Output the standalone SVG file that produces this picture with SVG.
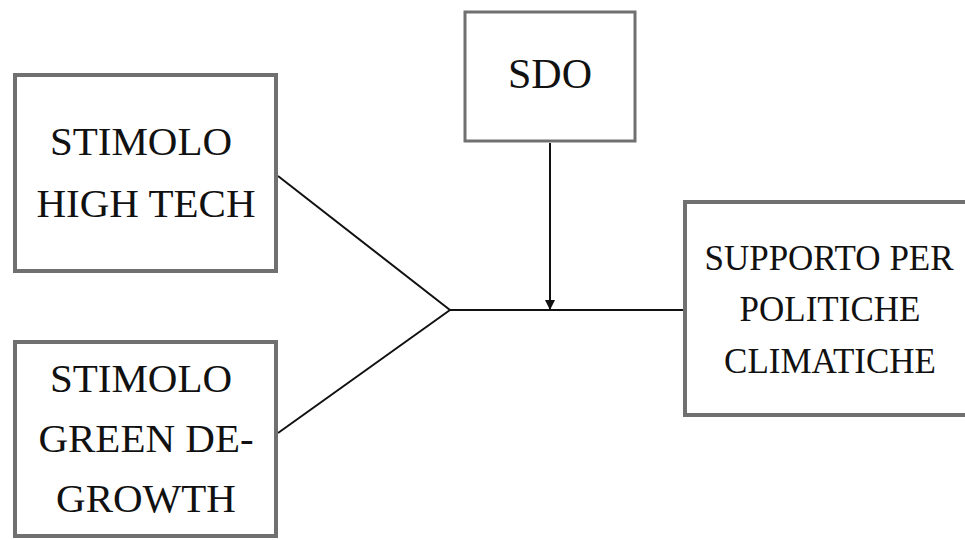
<svg xmlns="http://www.w3.org/2000/svg" width="965" height="540" viewBox="0 0 965 540">
<style>
.box{fill:#fff;stroke:#707070;stroke-width:4}
.t{font-family:"Liberation Serif","Times New Roman",serif;fill:#111;text-anchor:middle}
.l{font-size:41px}
.s{font-size:35px}
.c{stroke:#111;stroke-width:2;fill:none}
</style>
<defs>
<marker id="ah" viewBox="0 0 10 10" refX="10" refY="5" markerWidth="5" markerHeight="5" orient="auto" markerUnits="strokeWidth">
<path d="M0,0 L10,5 L0,10 Z" fill="#111"/>
</marker>
</defs>
<rect width="965" height="540" fill="#fff"/>
<g id="connectors">
<line class="c" x1="278" y1="176" x2="450" y2="310"/>
<line class="c" x1="278" y1="433" x2="450" y2="310"/>
<line class="c" x1="450" y1="310" x2="683" y2="310"/>
<line class="c" x1="550" y1="143" x2="550" y2="310" marker-end="url(#ah)"/>
</g>
<g id="stimolo-high-tech">
<rect class="box" x="15" y="75" width="261" height="196"/>
<text class="t l" x="141" y="155">STIMOLO</text>
<text class="t l" x="146" y="217">HIGH TECH</text>
</g>
<g id="stimolo-green">
<rect class="box" x="15" y="342" width="261" height="194"/>
<text class="t l" x="141" y="392">STIMOLO</text>
<text class="t l" x="146" y="452">GREEN DE-</text>
<text class="t l" x="146" y="512">GROWTH</text>
</g>
<g id="sdo">
<rect class="box" x="465" y="12" width="170" height="129" style="stroke-width:3"/>
<text class="t" x="550" y="88" style="font-size:42px">SDO</text>
</g>
<g id="supporto">
<rect class="box" x="685" y="202" width="283" height="213"/>
<text class="t s" x="829" y="270">SUPPORTO PER</text>
<text class="t s" x="830" y="321">POLITICHE</text>
<text class="t s" x="830" y="373">CLIMATICHE</text>
</g>
</svg>
